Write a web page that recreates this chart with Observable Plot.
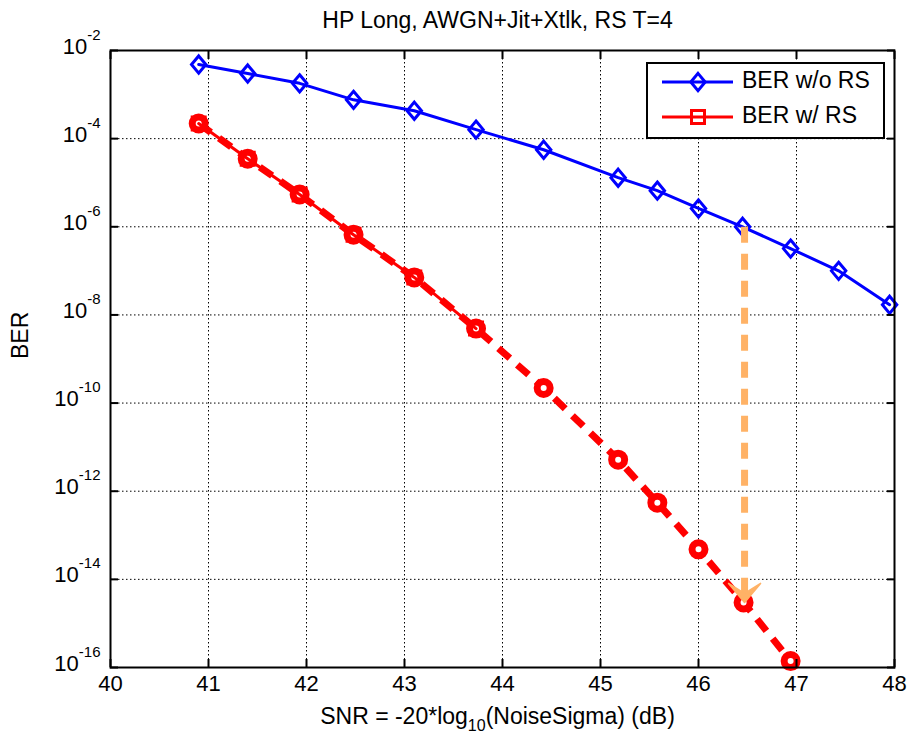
<!DOCTYPE html>
<html><head><meta charset="utf-8">
<script src="https://cdn.jsdelivr.net/npm/d3@7"></script>
<script src="https://cdn.jsdelivr.net/npm/@observablehq/plot@0.6"></script>
<style>html,body{margin:0;padding:0;background:#fff;} #chart{width:908px;height:736px;}</style>
</head><body><div id="chart"></div>
<script>
// ---------- data ----------
const chartTitle = "HP Long, AWGN+Jit+Xtlk, RS T=4";
const xLabel = "SNR = -20*log_10_(NoiseSigma) (dB)";
const yLabel = "BER";
const xTicks = [40, 41, 42, 43, 44, 45, 46, 47, 48];
const yTicks = [1e-16, 1e-14, 1e-12, 1e-10, 1e-8, 1e-6, 1e-4, 1e-2];
const seriesNames = ["BER w/o RS", "BER w/ RS"];

const snrNoRS = [40.9, 41.4, 41.93, 42.48, 43.1, 43.73, 44.42, 45.18, 45.58, 46.0, 46.45, 46.94, 47.43, 47.95];
const berNoRS = [4.8e-3, 3.0e-3, 1.8e-3, 7.6e-4, 4.3e-4, 1.6e-4, 5.6e-5, 1.3e-5, 6.6e-6, 2.6e-6, 1.0e-6, 3.2e-7, 1.0e-7, 1.7e-8];

const snrRS = [40.9, 41.4, 41.93, 42.48, 43.1, 43.73];
const berRS = [2.2e-4, 3.5e-5, 5.4e-6, 6.6e-7, 7.1e-8, 4.9e-9];

const snrRSext = [40.9, 41.4, 41.93, 42.48, 43.1, 43.73, 44.42, 45.18, 45.58, 46.0, 46.46, 46.94];
const berRSext = [2.2e-4, 3.5e-5, 5.4e-6, 6.6e-7, 7.1e-8, 4.9e-9, 2.2e-10, 5.2e-12, 5.5e-13, 4.8e-14, 3.0e-15, 1.4e-16];

const arrowSnr = [46.47];
const arrowFrom = [1.0e-6];
const arrowTo = [3.0e-15];

// ---------- tables ----------
const noRS = snrNoRS.map((x, i) => ({x, y: berNoRS[i]}));
const withRS = snrRS.map((x, i) => ({x, y: berRS[i]}));
const withRSext = snrRSext.map((x, i) => ({x, y: berRSext[i]}));
const arrows = arrowSnr.map((x, i) => ({x, y1: arrowFrom[i], y2: arrowTo[i]}));

const BLUE = "#0000ff", RED = "#ff0000", ORANGE = "#ffb266";
const FONT = "'Liberation Sans', Arial, Helvetica, sans-serif";

const diamond = {draw(ctx) { const w = 7.2, h = 8.6; ctx.moveTo(0, -h); ctx.lineTo(w, 0); ctx.lineTo(0, h); ctx.lineTo(-w, 0); ctx.closePath(); }};
const squareSym = {draw(ctx) { const s = 6.5; ctx.moveTo(-s, -s); ctx.lineTo(s, -s); ctx.lineTo(s, s); ctx.lineTo(-s, s); ctx.closePath(); }};
const vback = {draw(ctx) { ctx.moveTo(0, 0); ctx.lineTo(-16, -19); ctx.lineTo(0, -9); ctx.lineTo(16, -19); ctx.closePath(); }};

const gridStyle = {stroke: "black", strokeOpacity: 1, strokeWidth: 1, strokeDasharray: "1.5,2.5"};

const svg = Plot.plot({
  width: 908, height: 736,
  marginTop: 50, marginBottom: 69, marginLeft: 110, marginRight: 14,
  style: {fontFamily: FONT, background: "white", color: "black"},
  x: {domain: [40, 48]},
  y: {type: "log", domain: [1e-16, 1e-2]},
  marks: [
    Plot.gridX(xTicks.slice(1, -1), gridStyle),
    Plot.gridY(yTicks.slice(1, -1), gridStyle),
    // extrapolated RS curve (dashed, circles)
    Plot.line(withRSext, {x: "x", y: "y", stroke: RED, strokeWidth: 7, strokeDasharray: "15,10", strokeLinecap: "butt"}),
    Plot.dot(withRSext, {x: "x", y: "y", r: 6.5, stroke: RED, strokeWidth: 7, fill: "white"}),
    // measured RS curve (solid, squares)
    Plot.line(withRS, {x: "x", y: "y", stroke: RED, strokeWidth: 3}),
    Plot.dot(withRS, {x: "x", y: "y", symbol: squareSym, stroke: RED, strokeWidth: 3, fill: "none"}),
    // no RS
    Plot.line(noRS, {x: "x", y: "y", stroke: BLUE, strokeWidth: 3}),
    Plot.dot(noRS, {x: "x", y: "y", symbol: diamond, stroke: BLUE, strokeWidth: 3, fill: "none"}),
    // arrow
    Plot.link(arrows, {x1: "x", x2: "x", y1: "y1", y2: "y2", stroke: ORANGE, strokeWidth: 7, strokeDasharray: "16,11"}),
    Plot.dot(arrows, {x: "x", y: "y2", symbol: vback, fill: ORANGE, stroke: ORANGE, strokeWidth: 1.5, strokeLinejoin: "round"}),
    Plot.frame({stroke: "black", strokeWidth: 2}),
    // inward ticks
    Plot.axisX(xTicks, {anchor: "bottom", tickSize: 8, dy: -8, tickFormat: () => "", label: null, strokeWidth: 2}),
    Plot.axisX(xTicks, {anchor: "top", tickSize: 8, dy: 8, tickFormat: () => "", label: null, strokeWidth: 2}),
    Plot.axisY(yTicks, {anchor: "left", tickSize: 8, dx: 8, tickFormat: () => "", label: null, strokeWidth: 2}),
    Plot.axisY(yTicks, {anchor: "right", tickSize: 8, dx: -8, tickFormat: () => "", label: null, strokeWidth: 2}),
    // labels
    Plot.axisX(xTicks, {anchor: "bottom", tickSize: 0, tickPadding: 8, fontSize: 22, label: null, tickFormat: d => String(d)}),
    Plot.axisY(yTicks, {anchor: "left", tickSize: 0, tickPadding: 10, fontSize: 22, dy: -4, label: null,
      tickFormat: d => "10^" + Math.round(Math.log10(d))}),
    Plot.text([chartTitle], {text: d => d, frameAnchor: "top", lineAnchor: "bottom", dy: -23, dx: -5, fontSize: 23, fill: "black"}),
    Plot.text([xLabel], {text: d => d, frameAnchor: "bottom", lineAnchor: "bottom", dy: 56, dx: -5, fontSize: 23, fill: "black"}),
    Plot.text([yLabel], {text: d => d, frameAnchor: "left", lineAnchor: "bottom", rotate: -90, dx: -83, fontSize: 23, fill: "black"})
  ]
});

// superscripts / subscripts
const NS = "http://www.w3.org/2000/svg";
svg.querySelectorAll("text").forEach(t => {
  const s = t.textContent;
  if (s.includes("^")) {
    const [b, e] = s.split("^");
    t.textContent = b;
    const ts = document.createElementNS(NS, "tspan");
    ts.setAttribute("dy", "-14");
    ts.setAttribute("font-size", "15");
    ts.textContent = e;
    t.appendChild(ts);
  } else if (s.includes("_")) {
    const [a, sub, c] = s.split("_");
    t.textContent = a;
    const t1 = document.createElementNS(NS, "tspan");
    t1.setAttribute("dy", "7"); t1.setAttribute("font-size", "16"); t1.textContent = sub;
    const t2 = document.createElementNS(NS, "tspan");
    t2.setAttribute("dy", "-7"); t2.textContent = c;
    t.appendChild(t1); t.appendChild(t2);
  }
});

// legend
const lg = d3.select(svg).append("g").attr("font-family", FONT).attr("text-anchor", "start");
lg.append("rect").attr("x", 647).attr("y", 63).attr("width", 237).attr("height", 75)
  .attr("fill", "white").attr("stroke", "black").attr("stroke-width", 2);
const entries = [
  {name: seriesNames[0], color: BLUE, sym: diamond, y: 82},
  {name: seriesNames[1], color: RED, sym: squareSym, y: 117}
];
entries.forEach(e => {
  lg.append("line").attr("x1", 662).attr("x2", 733).attr("y1", e.y).attr("y2", e.y)
    .attr("stroke", e.color).attr("stroke-width", 3);
  lg.append("path").attr("d", d3.symbol(e.sym)()).attr("transform", `translate(698,${e.y})`)
    .attr("fill", "none").attr("stroke", e.color).attr("stroke-width", 3);
  lg.append("text").attr("x", 742).attr("y", e.y + 6).attr("font-size", 23).attr("fill", "black")
    .attr("text-anchor", "start").text(e.name);
});

document.getElementById("chart").appendChild(svg);
</script>
</body></html>
